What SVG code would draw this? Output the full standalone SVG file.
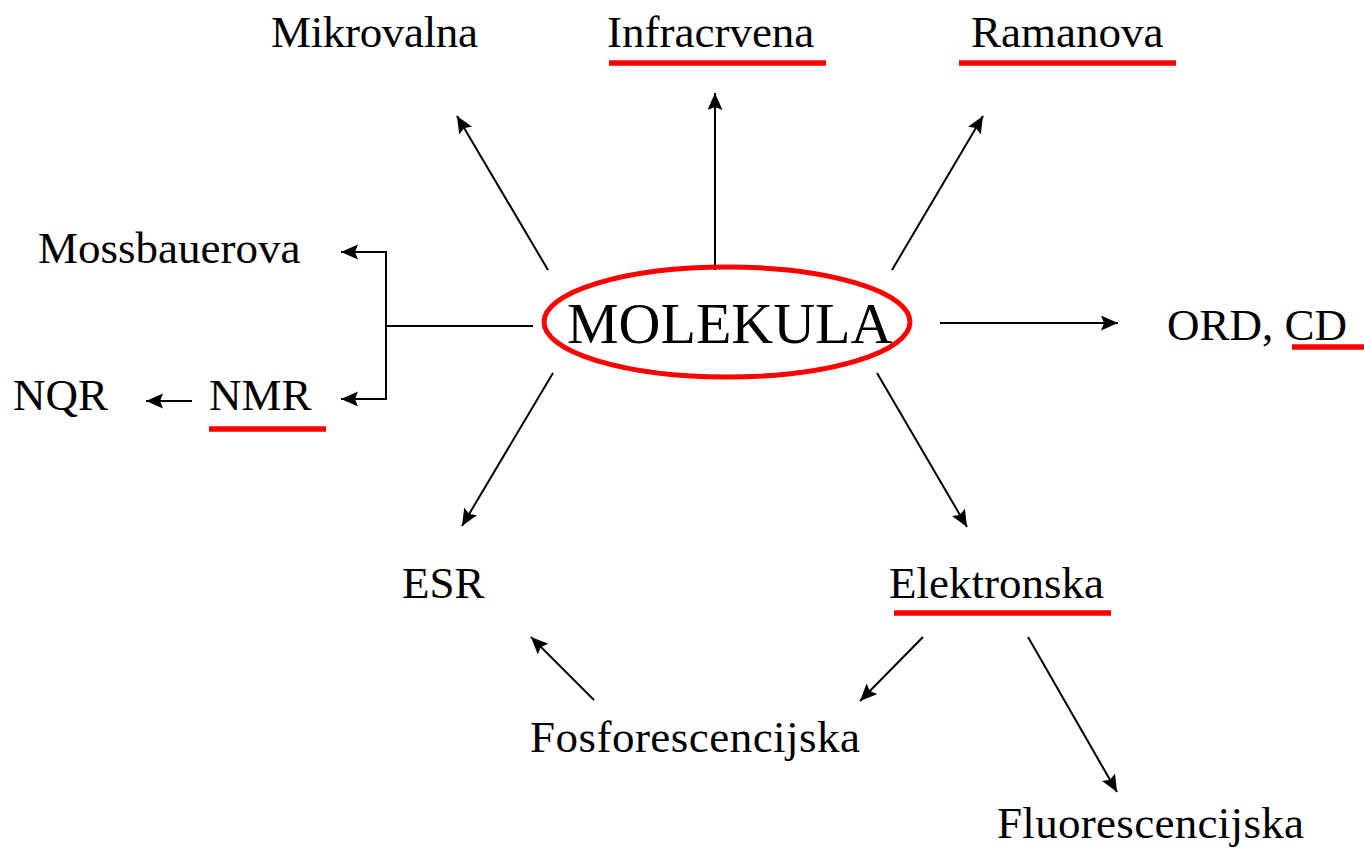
<svg xmlns="http://www.w3.org/2000/svg" width="1364" height="850" viewBox="0 0 1364 850">
<style>
.t{font-family:"Liberation Serif","Times New Roman",serif;font-size:45px;fill:#000}
.big{font-size:58px}
.c{stroke:#000;stroke-width:2;fill:none}
.u{stroke:#ff0000;stroke-width:5.5}
</style>
<defs>
<marker id="ah" markerUnits="userSpaceOnUse" markerWidth="18" markerHeight="16" refX="17" refY="7.5" orient="auto">
<path d="M0,0 L17,7.5 L0,15 L3,7.5 z" fill="#000"/>
</marker>
</defs>
<rect width="1364" height="850" fill="#fff"/>
<g id="connectors">
<line class="c" x1="548" y1="270" x2="457" y2="116" marker-end="url(#ah)"/>
<line class="c" x1="715" y1="270" x2="715" y2="93" marker-end="url(#ah)"/>
<line class="c" x1="892" y1="270" x2="983" y2="116" marker-end="url(#ah)"/>
<line class="c" x1="940" y1="323" x2="1118" y2="323" marker-end="url(#ah)"/>
<line class="c" x1="553" y1="373" x2="462" y2="526" marker-end="url(#ah)"/>
<line class="c" x1="877" y1="373" x2="967" y2="527" marker-end="url(#ah)"/>
<line class="c" x1="594" y1="700" x2="531" y2="637" marker-end="url(#ah)"/>
<line class="c" x1="923" y1="637" x2="860" y2="701" marker-end="url(#ah)"/>
<line class="c" x1="1028" y1="637" x2="1117" y2="792" marker-end="url(#ah)"/>
<line class="c" x1="192" y1="401" x2="146" y2="401" marker-end="url(#ah)"/>
<line class="c" x1="533" y1="326" x2="386" y2="326"/>
<line class="c" x1="386" y1="252" x2="386" y2="399"/>
<line class="c" x1="387" y1="252" x2="341" y2="252" marker-end="url(#ah)"/>
<line class="c" x1="387" y1="399" x2="341" y2="399" marker-end="url(#ah)"/>
</g>
<g id="molekula">
<ellipse cx="727" cy="322" rx="183" ry="55" fill="none" stroke="#ff0000" stroke-width="5"/>
<text class="t big" x="567" y="343">MOLEKULA</text>
</g>
<g id="mikrovalna"><text class="t" x="271" y="47" textLength="207">Mikrovalna</text></g>
<g id="infracrvena"><text class="t" x="607" y="47">Infracrvena</text><line class="u" x1="609" y1="63" x2="826" y2="63"/></g>
<g id="ramanova"><text class="t" x="971" y="47">Ramanova</text><line class="u" x1="959" y1="63" x2="1176" y2="63"/></g>
<g id="mossbauerova"><text class="t" x="38" y="263">Mossbauerova</text></g>
<g id="nmr"><text class="t" x="209" y="410">NMR</text><line class="u" x1="209" y1="429" x2="326" y2="429"/></g>
<g id="nqr"><text class="t" x="13" y="410">NQR</text></g>
<g id="ordcd"><text class="t" x="1167" y="340">ORD, CD</text><line class="u" x1="1292" y1="347" x2="1364" y2="347"/></g>
<g id="esr"><text class="t" x="402" y="598">ESR</text></g>
<g id="elektronska"><text class="t" x="889" y="598">Elektronska</text><line class="u" x1="894" y1="613" x2="1111" y2="613"/></g>
<g id="fosforescencijska"><text class="t" x="530" y="752" textLength="330">Fosforescencijska</text></g>
<g id="fluorescencijska"><text class="t" x="997" y="838" textLength="307">Fluorescencijska</text></g>
</svg>
